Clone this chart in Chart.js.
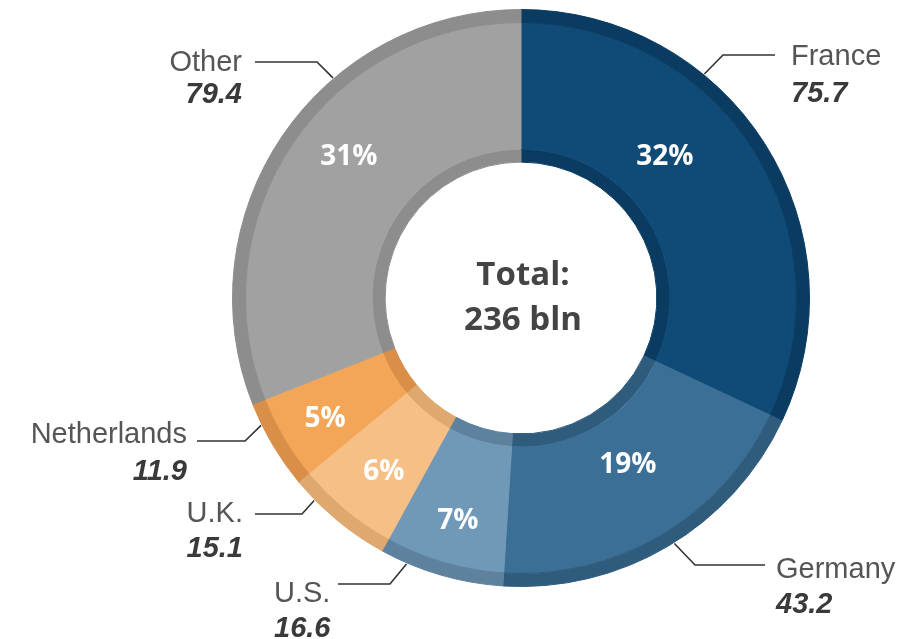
<!DOCTYPE html>
<html><head><meta charset="utf-8">
<script src="https://cdn.jsdelivr.net/npm/chart.js@4"></script>
<style>html,body{margin:0;padding:0;background:#fff}#wrap{width:919px;height:639px;position:relative}</style>
</head><body><div id="wrap"><canvas id="c"></canvas></div>
<script>
// ---- data ----
const categories = ['France', 'Germany', 'U.S.', 'U.K.', 'Netherlands', 'Other'];
const shares = [32, 19, 7, 6, 5, 31];            // % shares (drive arc sizes)
const values = ['75.7', '43.2', '16.6', '15.1', '11.9', '79.4']; // bln
const shareLabels = ['32%', '19%', '7%', '6%', '5%', '31%'];
const totalLines = ['Total:', '236 bln'];

// ---- styles ----
const mainColors = ['#0f4b76', '#3b6f95', '#7098b7', '#f6bf85', '#f3a658', '#a1a1a1'];
const edgeColors = ['#0a3c61', '#2f5c7d', '#5e829e', '#dea86f', '#d98f48', '#8d8d8d'];

// label layout (annotation positions): leader start angle (deg from top, clockwise),
// elbow point, horizontal end x, text anchor
const labelLayout = [
  {a: 39.3,  elbow: [723, 55],  endX: 775, align: 'left',  tx: 791, y1: 65,  y2: 102},
  {a: 148.0, elbow: [695, 565], endX: 765, align: 'left',  tx: 776, y1: 578, y2: 613},
  {a: 203.3, elbow: [390, 584], endX: 338, align: 'left',  tx: 274, y1: 602, y2: 637},
  {a: 225.6, elbow: [302, 514], endX: 255, align: 'right', tx: 243, y1: 522, y2: 557},
  {a: 243.9, elbow: [245, 441], endX: 197, align: 'right', tx: 187, y1: 443, y2: 480},
  {a: 319.5, elbow: [317, 62],  endX: 255, align: 'right', tx: 242, y1: 71,  y2: 103}
];
// percentage label placement: [angle deg from top, radius fraction of outer radius]
const pctLayout = [[45.6, 0.698], [147.4, 0.687], [195.8, 0.803], [218.2, 0.768], [238.3, 0.798], [309.3, 0.771]];

function polar(cx, cy, r, deg) {
  const a = -Math.PI / 2 + deg * Math.PI / 180;
  return [cx + r * Math.cos(a), cy + r * Math.sin(a)];
}

const labelsPlugin = {
  id: 'labelsPlugin',
  afterDraw(chart) {
    const ctx = chart.ctx;
    const arcs = chart.getDatasetMeta(0).data;
    const cx = arcs[0].x, cy = arcs[0].y, R = arcs[0].outerRadius;
    ctx.save();
    // percentage labels
    ctx.fillStyle = '#ffffff';
    ctx.font = 'bold 28px "Open Sans", "Liberation Sans", Arial, sans-serif';
    ctx.textAlign = 'center';
    ctx.textBaseline = 'middle';
    shareLabels.forEach((t, i) => {
      const [x, y] = polar(cx, cy, R * pctLayout[i][1], pctLayout[i][0]);
      ctx.fillText(t, x, y);
    });
    // center text
    ctx.fillStyle = '#444444';
    ctx.font = 'bold 33px "Open Sans", "DejaVu Sans", sans-serif';
    ctx.textBaseline = 'alphabetic';
    ctx.fillText(totalLines[0], cx + 2, 285);
    ctx.fillText(totalLines[1], cx + 2, 330);
    // leaders + outside labels
    ctx.strokeStyle = '#333333';
    ctx.lineWidth = 1.6;
    categories.forEach((name, i) => {
      const L = labelLayout[i];
      const [sx, sy] = polar(cx, cy, R + 1, L.a);
      ctx.beginPath();
      ctx.moveTo(sx, sy);
      ctx.lineTo(L.elbow[0], L.elbow[1]);
      ctx.lineTo(L.endX, L.elbow[1]);
      ctx.stroke();
      ctx.textAlign = L.align;
      ctx.fillStyle = '#555555';
      ctx.font = '29px "Liberation Sans", Arial, sans-serif';
      ctx.fillText(name, L.tx, L.y1);
      ctx.fillStyle = '#3a3a3a';
      ctx.font = 'italic bold 29px "Liberation Sans", Arial, sans-serif';
      ctx.fillText(values[i], L.tx, L.y2);
    });
    ctx.restore();
  }
};

const ring = (colors, weight) => ({
  data: shares,
  backgroundColor: colors,
  borderColor: colors,
  borderWidth: 1,
  hoverOffset: 0,
  weight: weight
});

new Chart(document.getElementById('c'), {
  type: 'doughnut',
  data: {
    labels: categories,
    datasets: [ring(edgeColors, 13), ring(mainColors, 126.5), ring(edgeColors, 13)]
  },
  options: {
    responsive: true,
    maintainAspectRatio: false,
    animation: false,
    cutout: '47.1%',
    layout: {padding: {left: 232, right: 109, top: 9, bottom: 52}},
    plugins: {legend: {display: false}, tooltip: {enabled: false}},
    events: []
  },
  plugins: [labelsPlugin]
});
</script></body></html>
